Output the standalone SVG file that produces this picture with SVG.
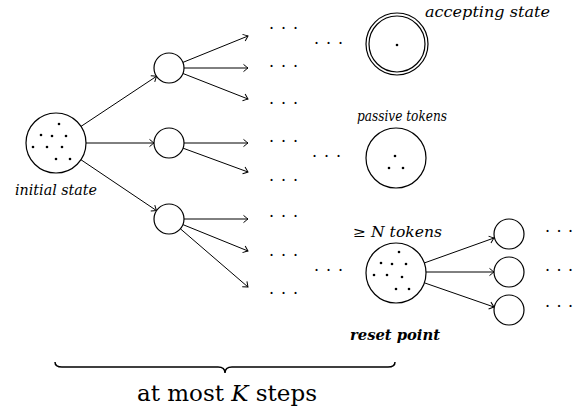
<svg xmlns="http://www.w3.org/2000/svg" width="573" height="408" viewBox="0 0 573 408">
<defs>
<marker id="arr" markerUnits="userSpaceOnUse" markerWidth="12" markerHeight="12" viewBox="-6 -6 12 12" refX="0" refY="0" orient="auto">
<path d="M-4.5,-3.6 Q-1.2,-0.9 0,0 Q-1.2,0.9 -4.5,3.6" fill="none" stroke="#000" stroke-width="1"/>
</marker>
</defs>
<style>
.st{fill:#fff;stroke:#000;stroke-width:1.2}
.tk{fill:#000;stroke:none}
.ln{stroke:#000;stroke-width:1;fill:none;marker-end:url(#arr)}
text{font-family:"DejaVu Serif","Liberation Serif",serif;fill:#000}
.lbl{font-style:italic;font-size:14px}
.dots{font-size:16px}
</style>
<rect width="573" height="408" fill="#fff"/>

<g id="connectors">
<line class="ln" x1="81" y1="126.4" x2="156.5" y2="76.3"/>
<line class="ln" x1="86" y1="143" x2="154" y2="143"/>
<line class="ln" x1="80.9" y1="159.7" x2="156.5" y2="210.6"/>
<line class="ln" x1="182.9" y1="62.4" x2="248" y2="36"/>
<line class="ln" x1="184" y1="68" x2="248" y2="68"/>
<line class="ln" x1="183" y1="73.5" x2="248" y2="99"/>
<line class="ln" x1="184" y1="143" x2="248" y2="143"/>
<line class="ln" x1="183.1" y1="148.2" x2="248" y2="172"/>
<line class="ln" x1="184" y1="219" x2="248" y2="219"/>
<line class="ln" x1="182.9" y1="224.6" x2="248" y2="251"/>
<line class="ln" x1="180.4" y1="228.8" x2="248" y2="287"/>
<line class="ln" x1="424.2" y1="263" x2="494" y2="238"/>
<line class="ln" x1="426" y1="272" x2="494" y2="272"/>
<line class="ln" x1="424.3" y1="282.8" x2="494" y2="307"/>
</g>

<g id="initial">
<circle class="st" cx="56" cy="143" r="30"/>
<circle class="tk" cx="59" cy="124" r="1.3"/>
<circle class="tk" cx="41" cy="135" r="1.3"/>
<circle class="tk" cx="52" cy="136" r="1.3"/>
<circle class="tk" cx="66" cy="136" r="1.3"/>
<circle class="tk" cx="33" cy="147" r="1.3"/>
<circle class="tk" cx="47" cy="147" r="1.3"/>
<circle class="tk" cx="62" cy="147" r="1.3"/>
<circle class="tk" cx="56" cy="159" r="1.3"/>
<circle class="tk" cx="70" cy="159" r="1.3"/>
<text class="lbl" x="15" y="195" textLength="82" lengthAdjust="spacingAndGlyphs">initial state</text>
</g>

<g id="n1"><circle class="st" cx="169" cy="68" r="15"/></g>
<g id="n2"><circle class="st" cx="169" cy="143" r="15"/></g>
<g id="n3"><circle class="st" cx="169" cy="219" r="15"/></g>

<g id="ellipses">
<text class="dots" x="269 281 293" y="34">···</text>
<text class="dots" x="269 281 293" y="72">···</text>
<text class="dots" x="269 281 293" y="109">···</text>
<text class="dots" x="269 281 293" y="147">···</text>
<text class="dots" x="269 281 293" y="186">···</text>
<text class="dots" x="269 281 293" y="222">···</text>
<text class="dots" x="269 281 293" y="261">···</text>
<text class="dots" x="269 281 293" y="299">···</text>
<text class="dots" x="314 326 338" y="49">···</text>
<text class="dots" x="312 324 336" y="162">···</text>
<text class="dots" x="314 326 338" y="276">···</text>
<text class="dots" x="545 556.5 568" y="237">···</text>
<text class="dots" x="545 556.5 568" y="276">···</text>
<text class="dots" x="545 556.5 568" y="312">···</text>
</g>

<g id="accepting">
<circle class="st" cx="397" cy="44" r="31"/>
<circle class="st" cx="397" cy="44" r="28"/>
<circle class="tk" cx="397" cy="45" r="1.3"/>
<text class="lbl" x="425" y="17" textLength="125" lengthAdjust="spacingAndGlyphs">accepting state</text>
</g>

<g id="passive">
<circle class="st" cx="396" cy="158" r="30"/>
<circle class="tk" cx="395" cy="156" r="1.3"/>
<circle class="tk" cx="389" cy="168" r="1.3"/>
<circle class="tk" cx="403" cy="168" r="1.3"/>
<text class="lbl" x="357" y="121" textLength="90" lengthAdjust="spacingAndGlyphs">passive tokens</text>
</g>

<g id="reset">
<circle class="st" cx="396" cy="273" r="30"/>
<circle class="tk" cx="399" cy="252" r="1.3"/>
<circle class="tk" cx="381" cy="263" r="1.3"/>
<circle class="tk" cx="392" cy="264" r="1.3"/>
<circle class="tk" cx="406" cy="264" r="1.3"/>
<circle class="tk" cx="374" cy="275" r="1.3"/>
<circle class="tk" cx="387" cy="275" r="1.3"/>
<circle class="tk" cx="402" cy="277" r="1.3"/>
<circle class="tk" cx="396" cy="289" r="1.3"/>
<circle class="tk" cx="409" cy="289" r="1.3"/>
<text class="lbl" x="353" y="237" textLength="89" lengthAdjust="spacingAndGlyphs"><tspan font-style="normal">≥</tspan> N  tokens</text>
<text class="lbl" x="350" y="340" font-weight="bold" textLength="90" lengthAdjust="spacingAndGlyphs">reset point</text>
</g>

<g id="r1"><circle class="st" cx="509" cy="234" r="15"/></g>
<g id="r2"><circle class="st" cx="509" cy="272" r="15"/></g>
<g id="r3"><circle class="st" cx="509" cy="310" r="15"/></g>

<g id="brace">
<path d="M55,362 Q55,367 62,367 L218,367 Q225,367 225,373 Q225,367 232,367 L388,367 Q395,367 395,362" fill="none" stroke="#000" stroke-width="1.5"/>
<text x="137" y="401" font-size="22" textLength="180" lengthAdjust="spacingAndGlyphs">at most <tspan font-style="italic">K</tspan> steps</text>
</g>
</svg>
